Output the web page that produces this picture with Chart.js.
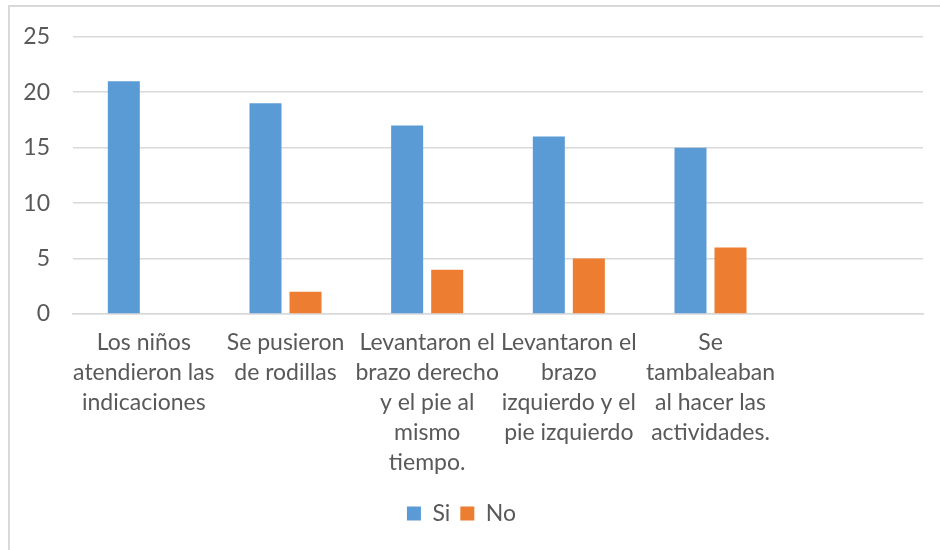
<!DOCTYPE html>
<html>
<head>
<meta charset="utf-8">
<script src="https://cdn.jsdelivr.net/npm/chart.js@4/dist/chart.umd.min.js"></script>
<style>
  html, body { margin: 0; padding: 0; background: #fff; }
  #wrap { position: relative; width: 940px; height: 550px; overflow: hidden; }
  #frame { position: absolute; left: 8px; top: 5px; width: 940px; height: 560px;
           border-left: 2px solid #d9d9d9; border-top: 2px solid #d9d9d9; box-sizing: border-box; }
  canvas { position: absolute; left: 0; top: 0; }
</style>
</head>
<body>
<div id="wrap">
  <div id="frame"></div>
  <canvas id="c" width="940" height="550"></canvas>
</div>
<script>
const categories = [
  ["Los niños", "atendieron las", "indicaciones"],
  ["Se pusieron", "de rodillas"],
  ["Levantaron el", "brazo derecho", "y el pie al", "mismo", "tiempo."],
  ["Levantaron el", "brazo", "izquierdo y el", "pie izquierdo"],
  ["Se", "tambaleaban", "al hacer las", "actividades."],
  ""
];
const seriesNames = ["Si", "No"];
const siValues = [21, 19, 17, 16, 15, null];
const noValues = [0, 2, 4, 5, 6, null];
const yTicks = [0, 5, 10, 15, 20, 25];

const FONT = "Lato, 'Open Sans', sans-serif";
const TXT = "#595959";
const GRID = "#d9d9d9";

new Chart(document.getElementById("c"), {
  type: "bar",
  data: {
    labels: categories,
    datasets: [
      { label: seriesNames[0], data: siValues, backgroundColor: "#5B9BD5", borderWidth: 0 },
      { label: seriesNames[1], data: noValues, backgroundColor: "#ED7D31", borderWidth: 0 }
    ]
  },
  options: {
    responsive: false,
    animation: false,
    devicePixelRatio: 1,
    categoryPercentage: 0.565,
    barPercentage: 0.8,
    layout: { padding: { top: 32, right: 17, bottom: 15, left: 0 } },
    plugins: {
      tooltip: { enabled: false },
      legend: {
        position: "bottom",
        labels: {
          color: TXT,
          font: { family: FONT, size: 23 },
          boxWidth: 14,
          boxHeight: 14,
          padding: 10
        }
      }
    },
    scales: {
      x: {
        grid: { display: false, drawTicks: false },
        border: { display: true, color: GRID, width: 1.5 },
        ticks: {
          color: TXT,
          font: { family: FONT, size: 23, lineHeight: 30 / 23 },
          maxRotation: 0,
          autoSkip: false,
          padding: 14
        }
      },
      y: {
        min: 0,
        max: 25,
        afterFit: (s) => { s.width = 73; },
        afterBuildTicks: (s) => { s.ticks = yTicks.map(v => ({ value: v })); },
        grid: { color: GRID, lineWidth: 1.5, drawTicks: false },
        border: { display: false },
        ticks: {
          color: TXT,
          font: { family: FONT, size: 23 },
          padding: 23
        }
      }
    }
  }
});
</script>
</body>
</html>
